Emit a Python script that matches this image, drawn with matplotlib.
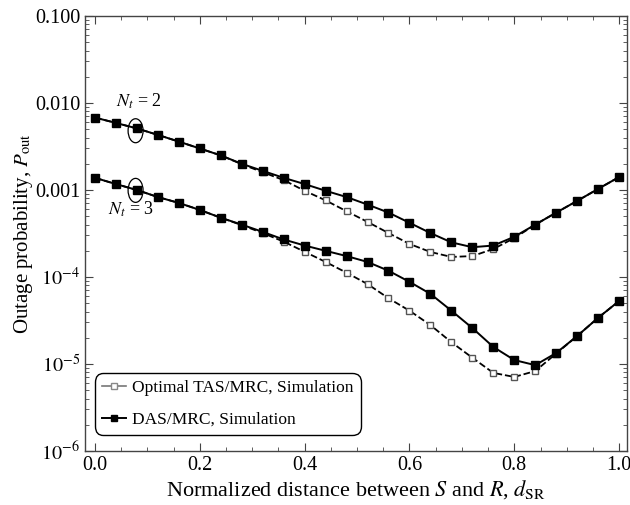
import matplotlib
matplotlib.use("Agg")
import matplotlib.pyplot as plt
from matplotlib.patches import Ellipse
from matplotlib.transforms import ScaledTranslation
from matplotlib.ticker import FixedLocator, FixedFormatter, MultipleLocator
import numpy as np

plt.rcParams['font.family'] = ['Liberation Serif', 'DejaVu Serif']
plt.rcParams['mathtext.fontset'] = 'stix'

x = [0.00, 0.04, 0.08, 0.12, 0.16, 0.20, 0.24, 0.28, 0.32, 0.36, 0.40, 0.44, 0.48,
     0.52, 0.56, 0.60, 0.64, 0.68, 0.72, 0.76, 0.80, 0.84, 0.88, 0.92, 0.96, 1.00]

das_nt2 = [6.8e-3, 5.9e-3, 5.1e-3, 4.3e-3, 3.6e-3, 3.0e-3, 2.5e-3, 2.0e-3, 1.66e-3, 1.38e-3,
           1.17e-3, 9.8e-4, 8.3e-4, 6.8e-4, 5.5e-4, 4.2e-4, 3.2e-4, 2.5e-4, 2.2e-4, 2.3e-4,
           2.9e-4, 4.0e-4, 5.5e-4, 7.5e-4, 1.03e-3, 1.41e-3]
tas_nt2 = [6.8e-3, 5.9e-3, 5.1e-3, 4.3e-3, 3.6e-3, 3.0e-3, 2.5e-3, 1.98e-3, 1.6e-3, 1.3e-3,
           9.8e-4, 7.6e-4, 5.7e-4, 4.3e-4, 3.2e-4, 2.4e-4, 1.94e-4, 1.7e-4, 1.74e-4, 2.1e-4,
           2.8e-4, 4.0e-4, 5.5e-4, 7.5e-4, 1.03e-3, 1.41e-3]
das_nt3 = [1.38e-3, 1.17e-3, 1.0e-3, 8.3e-4, 7.1e-4, 5.9e-4, 4.8e-4, 4.0e-4, 3.3e-4, 2.7e-4,
           2.3e-4, 2.0e-4, 1.74e-4, 1.49e-4, 1.18e-4, 8.8e-5, 6.4e-5, 4.1e-5, 2.59e-5, 1.57e-5,
           1.11e-5, 9.7e-6, 1.34e-5, 2.1e-5, 3.4e-5, 5.3e-5]
tas_nt3 = [1.38e-3, 1.17e-3, 1.0e-3, 8.3e-4, 7.1e-4, 5.9e-4, 4.8e-4, 3.95e-4, 3.2e-4, 2.55e-4,
           1.95e-4, 1.49e-4, 1.12e-4, 8.3e-5, 5.7e-5, 4.1e-5, 2.8e-5, 1.78e-5, 1.18e-5, 7.9e-6,
           7.1e-6, 8.3e-6, 1.32e-5, 2.1e-5, 3.4e-5, 5.3e-5]

ytick_vals = [1e-6, 1e-5, 1e-4, 1e-3, 1e-2, 1e-1]
ytick_labels = ['$10^{-6}$', '$10^{-5}$', '$10^{-4}$', '0.001', '0.010', '0.100']
xtick_vals = [0.0, 0.2, 0.4, 0.6, 0.8, 1.0]
xtick_labels = ['0.0', '0.2', '0.4', '0.6', '0.8', '1.0']

fig = plt.figure(figsize=(6.3, 5.05), dpi=100)
ax = fig.add_axes([85/630, 1 - 451/505, 542/630, 435/505])

open_kw = dict(color='black', ls='--', lw=1.3, marker='s', ms=4.8, mfc='white',
               mec='#555555', mew=1.0)
fill_kw = dict(color='black', ls='-', lw=1.4, marker='s', ms=5.8, mfc='black', mec='black')

ax.plot(x, tas_nt2, **open_kw)
ax.plot(x, tas_nt3, **open_kw)
ax.plot(x, das_nt2, **fill_kw)
ax.plot(x, das_nt3, **fill_kw)

# legend proxies (short grey line for the open-marker entry, as in the reference)
h1, = ax.plot([], [], color='#777777', ls='-', lw=1.2, marker='s', ms=4.5, mfc='white',
              mec='#888888', mew=1.0)
h2, = ax.plot([], [], color='black', ls='-', lw=1.4, marker='s', ms=5.0, mfc='black',
              mec='black')

ax.set_yscale('log')
ax.set_xlim(-0.019, 1.015)
ax.set_ylim(1e-6, 1e-1)
ax.yaxis.set_major_locator(FixedLocator(ytick_vals))
ax.yaxis.set_major_formatter(FixedFormatter(ytick_labels))
ax.set_xticks(xtick_vals)
ax.set_xticklabels(xtick_labels)
ax.xaxis.set_minor_locator(MultipleLocator(0.05))
ax.tick_params(which='both', direction='in', top=True, right=True, labelsize=14.5,
               color='#444444')
ax.tick_params(which='major', length=6)
ax.tick_params(which='minor', length=3)
for s in ax.spines.values():
    s.set_color('#444444')
    s.set_linewidth(1.0)

ax.set_xlabel('Normalized distance between $S$ and $R$, $d_{\\mathrm{SR}}$', fontsize=16,
              labelpad=2)
ax.set_ylabel('Outage probability, $P_{\\mathrm{out}}$', fontsize=15, labelpad=0)

# annotations: ellipses sized in inches, centred on data points
for cy in (0.0048, 0.00099):
    tr = fig.dpi_scale_trans + ScaledTranslation(0.0775, cy, ax.transData)
    ax.add_patch(Ellipse((0, 0), 0.15, 0.24, transform=tr, fill=False, ec='black',
                         lw=0.9, clip_on=False))
ax.text(0.084, 0.0105, '$N_t$ = 2', fontsize=13, ha='center', va='center')
ax.text(0.069, 0.0006, '$N_t$ = 3', fontsize=13, ha='center', va='center')

leg = ax.legend([h1, h2], ['Optimal TAS/MRC, Simulation', 'DAS/MRC, Simulation'],
                loc='lower left', bbox_to_anchor=(0.018, 0.037), fontsize=12.5,
                handlelength=1.4, handletextpad=0.35, borderpad=0.4, labelspacing=0.9,
                borderaxespad=0.0, fancybox=True, framealpha=1, edgecolor='black')
leg.get_frame().set_linewidth(1.0)
leg.get_frame().set_boxstyle('round', pad=0, rounding_size=0.5)

fig.savefig('out.png', dpi=100)
